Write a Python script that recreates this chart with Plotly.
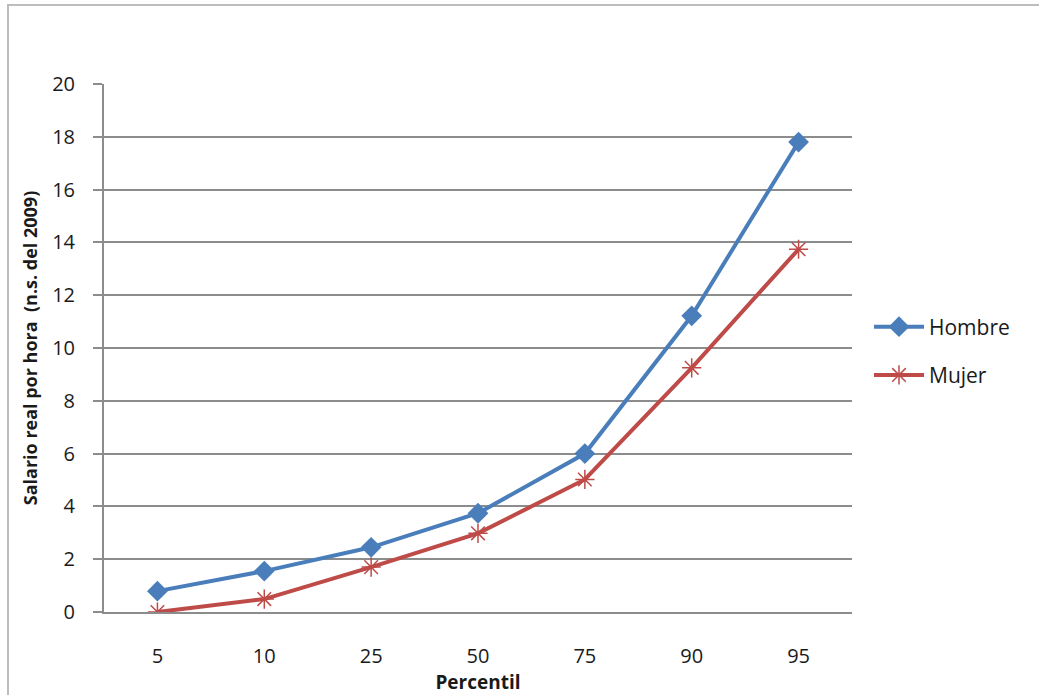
import plotly.graph_objects as go

percentiles = ["5", "10", "25", "50", "75", "90", "95"]
hombre = [0.79, 1.55, 2.45, 3.74, 6.0, 11.22, 17.8]
mujer = [0.0, 0.49, 1.7, 2.98, 5.02, 9.25, 13.74]

W, H = 1039, 695
L, R, T, B = 104, 852, 84, 612

fig = go.Figure()
fig.add_trace(go.Scatter(
    x=percentiles, y=hombre, name="Hombre", mode="lines+markers",
    line=dict(color="#4A7EBB", width=4),
    marker=dict(symbol="diamond", size=16, color="#4A7EBB"),
    legendgroup="h",
))
fig.add_trace(go.Scatter(
    x=percentiles, y=mujer, name="Mujer", mode="lines+markers",
    line=dict(color="#BE4B48", width=4),
    marker=dict(symbol="asterisk-open", size=16,
                line=dict(color="#D46A67", width=1.5)),
    legendgroup="m",
))

font_fam = "Open Sans, Noto Sans, sans-serif"

# outer chart border (left and top edges visible)
pw, ph = R - L, B - T
fig.add_shape(type="rect", xref="paper", yref="paper",
              x0=(8 - L) / pw, x1=(1060 - L) / pw,
              y0=(B - 720) / ph, y1=(B - 5) / ph,
              line=dict(color="#BDBDBD", width=2), layer="below")

fig.update_layout(
    width=W, height=H,
    margin=dict(l=L, r=W - R, t=T, b=H - B),
    paper_bgcolor="white", plot_bgcolor="white",
    showlegend=True,
    legend=dict(x=(869 - L) / pw, xanchor="left", xref="paper",
                y=(B - 351) / ph, yanchor="middle",
                font=dict(family=font_fam, size=21, color="#1a1a1a"),
                tracegroupgap=18, itemwidth=50, bgcolor="rgba(0,0,0,0)"),
    font=dict(family=font_fam, size=20, color="#1a1a1a"),
)
fig.update_xaxes(
    type="category", showgrid=False, showline=True, linecolor="#8C8C8C",
    linewidth=2, ticks="", tickfont=dict(size=20), ticklabelstandoff=25,
    title=dict(text="<b>Percentil</b>", font=dict(size=19), standoff=2),
    range=[-0.5, 6.5], fixedrange=True, automargin=False,
)
fig.update_yaxes(
    range=[0, 20], dtick=2, showgrid=True, gridcolor="#8C8C8C", gridwidth=1.5,
    showline=True, linecolor="#8C8C8C", linewidth=2, ticks="outside",
    ticklen=9, tickcolor="#8C8C8C", tickwidth=1.5, zeroline=False,
    tickfont=dict(size=20), ticklabelstandoff=14, automargin=False,
    title=dict(text="<b>Salario real por hora  (n.s. del 2009)</b>",
               font=dict(size=18), standoff=10),
)

fig.write_html("out.html")
